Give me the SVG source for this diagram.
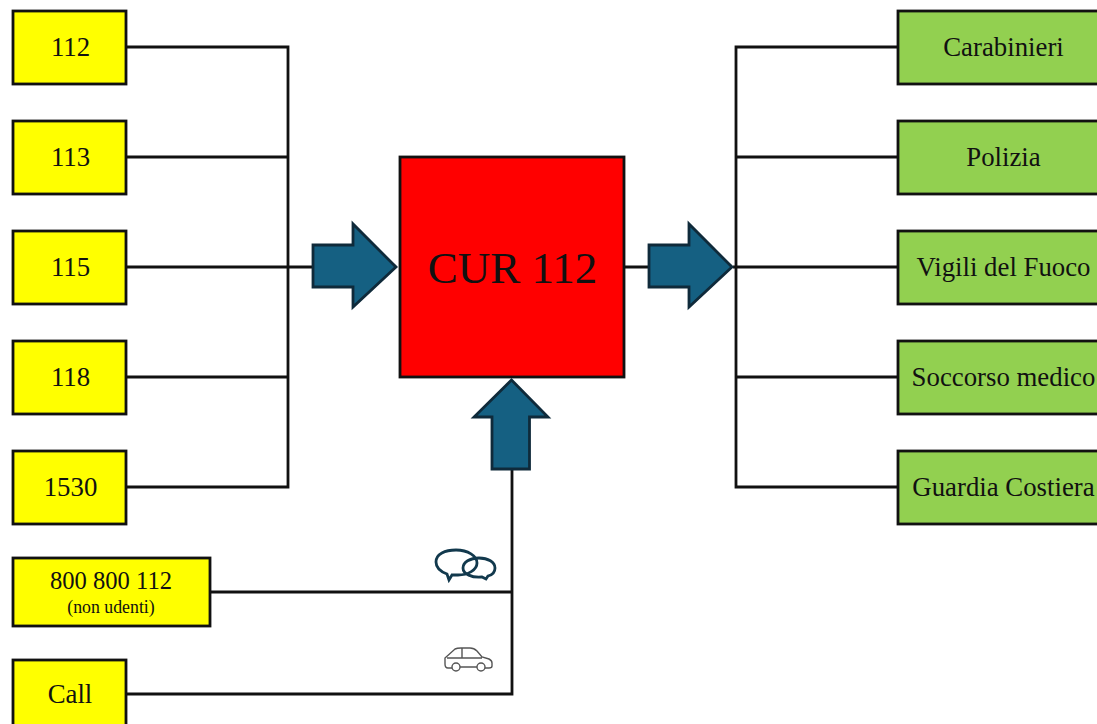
<svg xmlns="http://www.w3.org/2000/svg" width="1097" height="724" viewBox="0 0 1097 724">
<style>
text{font-family:"Liberation Serif","Times New Roman",serif;text-anchor:middle;fill:#111}
.y{fill:#ffff00;stroke:#111;stroke-width:2.8}
.g{fill:#92d050;stroke:#111;stroke-width:2.8}
.t{font-size:26.8px}
.l{fill:none;stroke:#111;stroke-width:2.8}
.a{fill:#156082;stroke:#0f2a3a;stroke-width:2.8;stroke-linejoin:miter}
</style>
<rect width="1097" height="724" fill="#fff"/>
<g id="connectors">
<path class="l" d="M126 47H288V487H126M126 157H288M126 267H312M126 377H288"/>
<path class="l" d="M625 267H650M733 267H898M898 47H736V487H898M736 157H898M736 377H898"/>
<path class="l" d="M512 469V694H126M211 592H512"/>
</g>
<g id="n112"><rect class="y" x="13" y="11" width="113" height="73"/><text class="t" x="70.500" y="56">112</text></g>
<g id="n113"><rect class="y" x="13" y="121" width="113" height="73"/><text class="t" x="70.500" y="166">113</text></g>
<g id="n115"><rect class="y" x="13" y="231" width="113" height="73"/><text class="t" x="70.500" y="276">115</text></g>
<g id="n118"><rect class="y" x="13" y="341" width="113" height="73"/><text class="t" x="70.500" y="386">118</text></g>
<g id="n1530"><rect class="y" x="13" y="451" width="113" height="73"/><text class="t" x="70.500" y="496">1530</text></g>
<g id="n800"><rect class="y" x="13" y="558" width="197" height="68"/><text x="111" y="589" font-size="24.600">800 800 112</text><text x="111" y="613" font-size="17.800">(non udenti)</text></g>
<g id="ncall"><rect class="y" x="13" y="660" width="113" height="73"/><text class="t" x="70" y="703">Call</text></g>
<g id="carabinieri"><rect class="g" x="898" y="11" width="212" height="73"/><text class="t" x="1003.500" y="56">Carabinieri</text></g>
<g id="polizia"><rect class="g" x="898" y="121" width="212" height="73"/><text class="t" x="1003.500" y="166">Polizia</text></g>
<g id="vigili"><rect class="g" x="898" y="231" width="212" height="73"/><text class="t" x="1003.500" y="276">Vigili del Fuoco</text></g>
<g id="soccorso"><rect class="g" x="898" y="341" width="212" height="73"/><text class="t" x="1003.500" y="386">Soccorso medico</text></g>
<g id="guardia"><rect class="g" x="898" y="451" width="212" height="73"/><text class="t" x="1003.500" y="496">Guardia Costiera</text></g>
<g id="cur"><rect x="400" y="157" width="224" height="220" fill="#ff0000" stroke="#111" stroke-width="2.800"/><text x="512.500" y="283" font-size="45">CUR 112</text></g>
<g id="arrow-left"><path class="a" d="M313 245H353V224L396 267L353 307V287H313Z"/></g>
<g id="arrow-right"><path class="a" d="M649 245H689V224L732 267L689 307V287H649Z"/></g>
<g id="arrow-up"><path class="a" d="M511.500 380L548 417H529.500V469H492V417H474Z"/></g>
<g id="icon-chat" fill="none" stroke="#12394d" stroke-width="2.800">
<path d="M447 574C439 571 436 567 436 562C436 554 445 550 456 550C468 550 477 556 477 563C477 570 468 575 458 575C456 575 454 575 452 575L449 580L447 574Z"/>
<path d="M463 568C463 562 470 558 479 558C488 558 495 562 495 568C495 572 492 575 488 576L486 579L482 577C472 578 463 574 463 568Z"/>
</g>
<g id="icon-car" fill="none" stroke="#555" stroke-width="1.400">
<path d="M452 668H448C446 668 445 666 445 664V658L455 649C457 648 459 648 461 648H470C473 648 475 649 477 651L482 657L489 659C491 660 492 661 492 663V666C492 667 491 668 489 668H485M477 667H460M447 658H482M462 648V658"/>
<circle cx="456" cy="667" r="4"/><circle cx="481" cy="667" r="4"/>
</g>
</svg>
